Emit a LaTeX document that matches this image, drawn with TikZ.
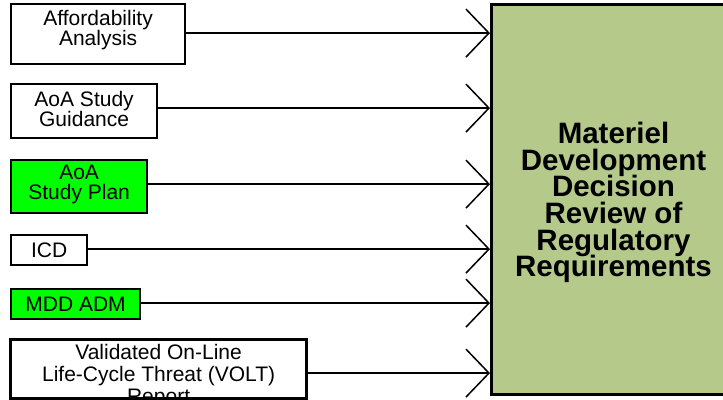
\documentclass[tikz,border=0pt]{standalone}
\usepackage{fontspec}
\setmainfont{Liberation Sans}
\usetikzlibrary{arrows.meta}
\definecolor{olivebox}{RGB}{181,201,138}
\definecolor{brightgreen}{RGB}{0,255,0}
\newcommand\stacklines[2]{\raisebox{#1}[\height][\depth]{\vbox{\lineskiplimit=-100pt\halign{\hfil##\hfil\cr#2\crcr}}}}
\begin{document}
\begin{tikzpicture}[x=1pt,y=-1pt,
  smallbox/.style={draw=black,line width=2.2pt,fill=white,anchor=north west,inner sep=0pt,align=center,font=\fontsize{21}{20.5}\selectfont},
  greenbox/.style={smallbox,fill=brightgreen},
  conn/.style={line width=1.5pt,-{Straight Barb[length=23pt,width=48pt,line width=1.5pt]}},
  bigbox/.style={draw=black,line width=3pt,fill=olivebox,anchor=north west,inner sep=0pt,align=center,font=\fontsize{29.5}{26.7}\selectfont\bfseries}
]
\useasboundingbox (0,0) rectangle (723,399);
\clip (0,0) rectangle (723,399);

\node[bigbox,minimum width=244pt,minimum height=390pt] (mdd) at (490,3)
  {\stacklines{-3pt}{Materiel\cr Development\cr Decision\cr Review of\cr Regulatory\cr Requirements}};

\node[smallbox,minimum width=174pt,minimum height=60pt] (b1) at (10,3)
  {\stacklines{4pt}{Affordability\cr Analysis}};
\node[smallbox,minimum width=146pt,minimum height=54pt] (b2) at (10,83)
  {\stacklines{2pt}{AoA Study\cr Guidance}};
\node[greenbox,minimum width=136pt,minimum height=53pt] (b3) at (10,159)
  {\stacklines{2pt}{AoA\cr Study Plan}};
\node[smallbox,minimum width=76pt,minimum height=30pt] (b4) at (10,234) {ICD};
\node[greenbox,minimum width=129pt,minimum height=30pt] (b5) at (10,288) {MDD ADM};
\node[smallbox,minimum width=295pt,minimum height=58pt] (b6) at (10,339) {};
\node[font=\fontsize{21}{22}\selectfont,align=center,inner sep=0pt] (b6text) at ([yshift=-7pt]b6.center)
  {Validated On-Line\\Life-Cycle Threat (VOLT)\\Report};
\draw[line width=2.2pt] (b6.north west) rectangle (b6.south east);

\coordinate (s1) at ([yshift=1pt]b1.east);
\coordinate (s2) at ([yshift=3pt]b2.east);
\coordinate (s3) at ([yshift=2.5pt]b3.east);
\coordinate (s4) at ([yshift=1pt]b4.east);
\coordinate (s5) at ([yshift=1pt]b5.east);
\coordinate (s6) at ([yshift=-4pt]b6.east);
\foreach \s in {s1,s2,s3,s4,s5,s6}
  \draw[conn] (\s) -- (\s -| mdd.west);
\end{tikzpicture}
\end{document}
